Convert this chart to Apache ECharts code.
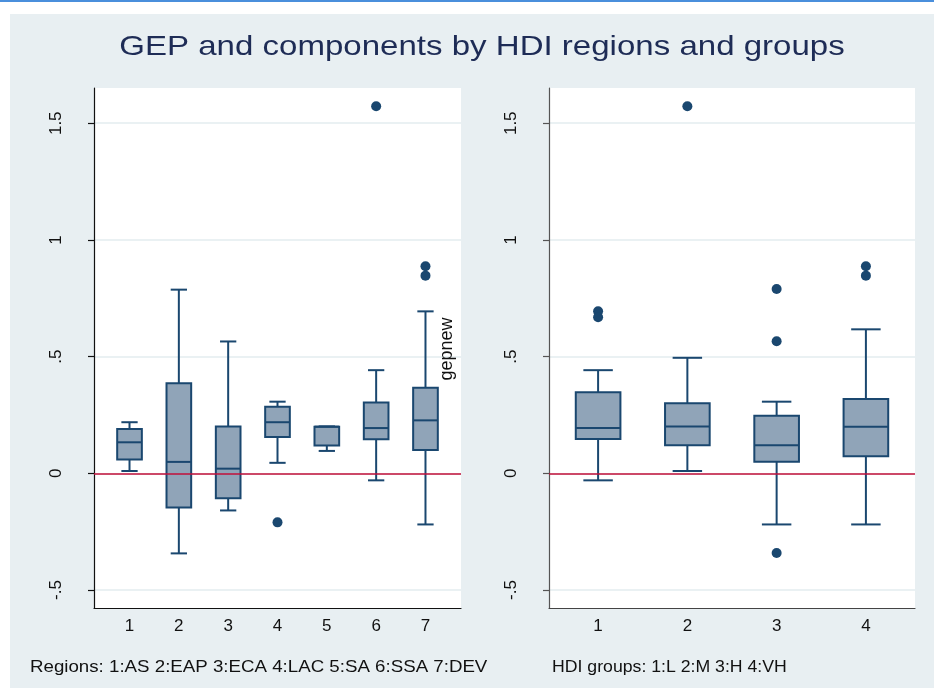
<!DOCTYPE html>
<html>
<head>
<meta charset="utf-8">
<script src="https://cdn.jsdelivr.net/npm/echarts@6/dist/echarts.min.js"></script>
<style>
  html, body { margin: 0; padding: 0; background: #ffffff; width: 934px; height: 688px; overflow: hidden; }
  #topline { position: absolute; left: 0; top: 0; width: 934px; height: 2px; background: #4a8fdc; }
  #panel { position: absolute; left: 10px; top: 14px; width: 924px; height: 674px; background: #e8eff2; }
  #chart { position: absolute; left: 0; top: 0; width: 934px; height: 688px; }
</style>
</head>
<body>
<div id="topline"></div>
<div id="panel"></div>
<div id="chart"></div>
<script>
// ---- Data ----
const regionLabels = ['1', '2', '3', '4', '5', '6', '7'];
const regionMin = [0.010, -0.343, -0.159, 0.045, 0.096, -0.030, -0.219];
const regionQ1  = [0.059, -0.146, -0.107, 0.156, 0.119, 0.146, 0.100];
const regionMed = [0.133, 0.049, 0.020, 0.219, 0.200, 0.194, 0.227];
const regionQ3  = [0.190, 0.386, 0.201, 0.285, 0.200, 0.304, 0.367];
const regionMax = [0.219, 0.787, 0.565, 0.307, 0.201, 0.442, 0.694];
const regionOutliers = [[4, -0.210], [6, 1.573], [7, 0.887], [7, 0.847]];

const hdiLabels = ['1', '2', '3', '4'];
const hdiMin = [-0.030, 0.010, -0.219, -0.219];
const hdiQ1  = [0.147, 0.120, 0.050, 0.073];
const hdiMed = [0.194, 0.201, 0.120, 0.200];
const hdiQ3  = [0.347, 0.300, 0.247, 0.319];
const hdiMax = [0.442, 0.495, 0.307, 0.617];
const hdiOutliers = [[1, 0.694], [1, 0.669], [2, 1.573], [3, 0.790], [3, 0.566], [3, -0.341], [4, 0.887], [4, 0.847]];

const titleText = 'GEP and components by HDI regions and groups';
const regionNote = 'Regions: 1:AS 2:EAP 3:ECA 4:LAC 5:SA 6:SSA 7:DEV';
const hdiNote = 'HDI groups: 1:L 2:M 3:H 4:VH';
const yTitle = 'gepnew';

// ---- Build ----
function boxRows(mn, q1, md, q3, mx) {
  return mn.map((v, i) => [i + 1, mn[i], q1[i], md[i], q3[i], mx[i]]);
}

const STROKE = '#1a476f';
const FILL = '#90a4b8';
const FONT = '"Liberation Sans", Arial, Helvetica, sans-serif';

function renderBox(params, api) {
  const x = api.value(0);
  const pMin = api.coord([x, api.value(1)]);
  const pQ1 = api.coord([x, api.value(2)]);
  const pMed = api.coord([x, api.value(3)]);
  const pQ3 = api.coord([x, api.value(4)]);
  const pMax = api.coord([x, api.value(5)]);
  const unit = api.size([1, 0])[0];
  const bw = unit * 0.5;
  const cw = unit * 0.33;
  const cx = pMed[0];
  const ls = { stroke: STROKE, lineWidth: 2, fill: null };
  return {
    type: 'group',
    children: [
      { type: 'line', shape: { x1: cx, y1: pMax[1], x2: cx, y2: pQ3[1] }, style: ls },
      { type: 'line', shape: { x1: cx, y1: pQ1[1], x2: cx, y2: pMin[1] }, style: ls },
      { type: 'line', shape: { x1: cx - cw / 2, y1: pMax[1], x2: cx + cw / 2, y2: pMax[1] }, style: ls },
      { type: 'line', shape: { x1: cx - cw / 2, y1: pMin[1], x2: cx + cw / 2, y2: pMin[1] }, style: ls },
      { type: 'rect', shape: { x: cx - bw / 2, y: pQ3[1], width: bw, height: pQ1[1] - pQ3[1] },
        style: { fill: FILL, stroke: STROKE, lineWidth: 2 } },
      { type: 'line', shape: { x1: cx - bw / 2, y1: pMed[1], x2: cx + bw / 2, y2: pMed[1] }, style: ls }
    ]
  };
}

const Y_MIN = -0.577, Y_MAX = 1.651;

function yAxisCfg(gi, lineColor) {
  return {
    type: 'value', gridIndex: gi, min: Y_MIN, max: Y_MAX,
    axisLine: { show: true, onZero: false, lineStyle: { color: lineColor, width: 1.2 } },
    axisTick: { show: true, length: 6, lineStyle: { color: lineColor, width: 1.2 } },
    axisLabel: {
      rotate: 90, margin: 29, fontSize: 17, fontFamily: FONT, color: '#111',
      showMinLabel: false, showMaxLabel: false,
      formatter: v => (Math.abs(v) < 1e-9 ? '0' : String(+v.toFixed(3)).replace(/^(-?)0\./, '$1.'))
    },
    splitLine: { show: true, showMinLine: false, showMaxLine: false, lineStyle: { color: '#eaf1f3', width: 2 } }
  };
}

function xAxisCfg(gi, labels, lo, hi, lineColor) {
  return {
    type: 'value', gridIndex: gi, min: lo, max: hi,
    axisLine: { show: true, onZero: false, lineStyle: { color: lineColor, width: 1.2 } },
    axisTick: { show: false },
    splitLine: { show: false },
    axisLabel: {
      margin: 10, fontSize: 17, fontFamily: FONT, color: '#111',
      customValues: labels.map((_, i) => i + 1),
      formatter: v => labels[Math.round(v) - 1]
    }
  };
}

const zeroLine = {
  silent: true, symbol: 'none', label: { show: false },
  lineStyle: { color: '#c20f3a', width: 1.7, type: 'solid' },
  data: [{ yAxis: 0 }]
};

const option = {
  backgroundColor: 'transparent',
  animation: false,
  grid: [
    { left: 94, top: 88, width: 367, height: 520, show: true, backgroundColor: '#ffffff', borderWidth: 0 },
    { left: 549, top: 88, width: 366, height: 520, show: true, backgroundColor: '#ffffff', borderWidth: 0 }
  ],
  xAxis: [
    xAxisCfg(0, regionLabels, 0.28, 7.72, '#111'),
    xAxisCfg(1, hdiLabels, 0.45, 4.55, '#444')
  ],
  yAxis: [
    yAxisCfg(0, '#111'),
    yAxisCfg(1, '#555')
  ],
  series: [
    {
      type: 'custom', xAxisIndex: 0, yAxisIndex: 0, renderItem: renderBox,
      encode: { x: 0, y: [1, 2, 3, 4, 5] },
      data: boxRows(regionMin, regionQ1, regionMed, regionQ3, regionMax),
      markLine: zeroLine, z: 3
    },
    {
      type: 'scatter', xAxisIndex: 0, yAxisIndex: 0, symbol: 'circle', symbolSize: 10,
      itemStyle: { color: STROKE, opacity: 1 }, data: regionOutliers, z: 4
    },
    {
      type: 'custom', xAxisIndex: 1, yAxisIndex: 1, renderItem: renderBox,
      encode: { x: 0, y: [1, 2, 3, 4, 5] },
      data: boxRows(hdiMin, hdiQ1, hdiMed, hdiQ3, hdiMax),
      markLine: zeroLine, z: 3
    },
    {
      type: 'scatter', xAxisIndex: 1, yAxisIndex: 1, symbol: 'circle', symbolSize: 10,
      itemStyle: { color: STROKE, opacity: 1 }, data: hdiOutliers, z: 4
    }
  ],
  graphic: [
    { type: 'text', x: 482, y: 47, scaleX: 1.18, originX: 0, originY: 0, z: 10,
      style: { text: titleText, font: '28px ' + FONT, fill: '#1e2c56', align: 'center', verticalAlign: 'middle' } },
    { type: 'text', x: 30, y: 667, scaleX: 1.1, originX: 0, originY: 0, z: 10,
      style: { text: regionNote, font: '17px ' + FONT, fill: '#111', align: 'left', verticalAlign: 'middle' } },
    { type: 'text', x: 552, y: 667, scaleX: 1.04, originX: 0, originY: 0, z: 10,
      style: { text: hdiNote, font: '17px ' + FONT, fill: '#111', align: 'left', verticalAlign: 'middle' } },
    { type: 'text', x: 447, y: 349, rotation: Math.PI / 2, z: 10,
      style: { text: yTitle, font: '18px ' + FONT, fill: '#111', align: 'center', verticalAlign: 'middle' } }
  ]
};

const chart = echarts.init(document.getElementById('chart'), null, { renderer: 'canvas' });
chart.setOption(option);
</script>
</body>
</html>
